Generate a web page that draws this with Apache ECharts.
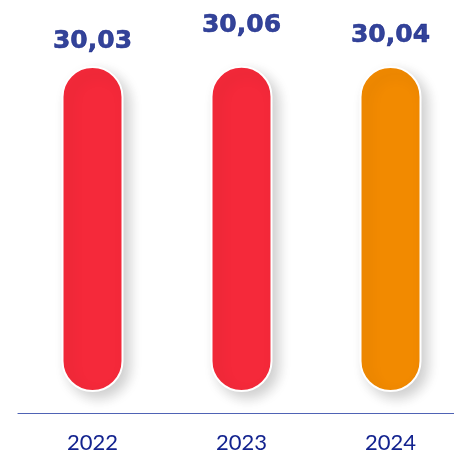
<!DOCTYPE html>
<html><head><meta charset="utf-8">
<script src="https://cdn.jsdelivr.net/npm/echarts@6/dist/echarts.min.js"></script>
<style>html,body{margin:0;padding:0;background:#fff}#c{width:454px;height:451px}</style>
</head><body><div id="c"></div>
<script>
const categories = ['2022', '2023', '2024'];
const values = [30.03, 30.06, 30.04];
const barColors = ['#f5293a', '#f5293a', '#f28a00'];

const chart = echarts.init(document.getElementById('c'), null, {renderer: 'canvas'});
const fmt = v => v.toFixed(2).replace('.', ',');
chart.setOption({
  animation: false,
  grid: {left: 18, width: 447, top: 65.35, bottom: 59, containLabel: false, outerBoundsMode: 'none'},
  xAxis: {
    type: 'category', data: categories, offset: 21,
    axisLine: {onZero: false, lineStyle: {color: '#4f63b5', width: 1.2}},
    axisTick: {show: false},
    axisLabel: {color: '#13238f', fontSize: 22, fontFamily: 'Lato', margin: 19}
  },
  yAxis: [
    {type: 'value', min: 0, max: 30.1, show: false, splitLine: {show: false}},
    {type: 'value', min: 29.3638, max: 29.9838, show: false, splitLine: {show: false}}
  ],
  series: [
    {
      type: 'bar', barWidth: 62,
      data: values.map((v, i) => ({value: v, itemStyle: {color: barColors[i]}})),
      itemStyle: {
        borderRadius: 31, borderColor: '#ffffff', borderWidth: 2,
        shadowBlur: 14, shadowOffsetX: 6, shadowOffsetY: 6, shadowColor: 'rgba(0,0,0,0.2)'
      }
    },
    {
      type: 'scatter', yAxisIndex: 1, symbolSize: 0, clip: false,
      data: values,
      label: {
        show: true, position: 'inside', formatter: p => fmt(p.value),
        color: '#00147f', fontSize: 25, fontWeight: 'bold', fontFamily: 'DejaVu Sans',
        textBorderColor: '#00147f', textBorderWidth: 0.6
      }
    }
  ]
});
</script></body></html>
